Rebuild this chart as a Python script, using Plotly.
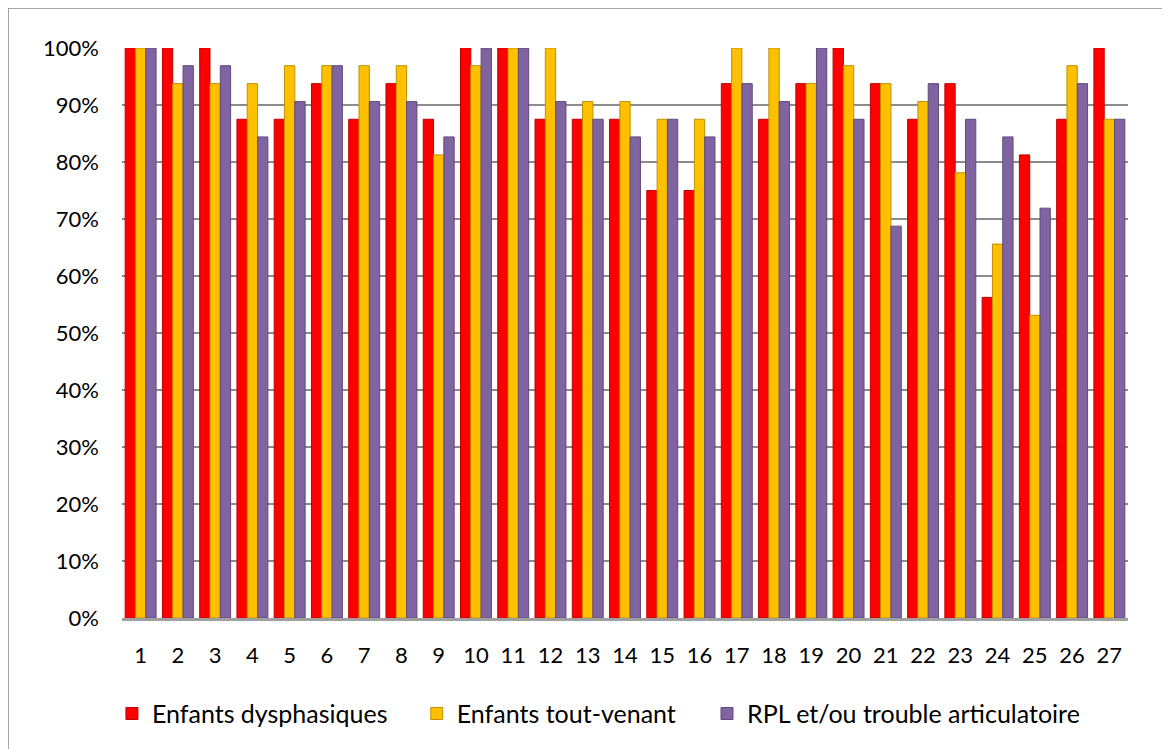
import plotly.graph_objects as go

categories = [str(i) for i in range(1, 28)]
dysphasiques = [100, 100, 100, 87.5, 87.5, 93.75, 87.5, 93.75, 87.5, 100, 100, 87.5, 87.5, 87.5,
                75, 75, 93.75, 87.5, 93.75, 100, 93.75, 87.5, 93.75, 56.25, 81.25, 87.5, 100]
tout_venant = [100, 93.75, 93.75, 93.75, 96.9, 96.9, 96.9, 96.9, 81.25, 96.9, 100, 100, 90.6, 90.6,
               87.5, 87.5, 100, 100, 93.75, 96.9, 93.75, 90.6, 78.1, 65.6, 53.1, 96.9, 87.5]
rpl = [100, 96.9, 96.9, 84.4, 90.6, 96.9, 90.6, 90.6, 84.4, 100, 100, 90.6, 87.5, 84.4,
       87.5, 84.4, 93.75, 90.6, 100, 87.5, 68.75, 93.75, 87.5, 84.4, 71.9, 93.75, 87.5]
series_names = ["Enfants dysphasiques", "Enfants tout-venant", "RPL et/ou trouble articulatoire"]
colors = ["#FF0000", "#FFC000", "#8064A2"]
edge_colors = ["#C00000", "#C09000", "#5F4A7C"]
legend_ids = ["legend", "legend2", "legend3"]
legend_x = [-0.01, 0.293, 0.5815]

fig = go.Figure()
for name, vals, c, ec, lg in zip(series_names, [dysphasiques, tout_venant, rpl], colors, edge_colors, legend_ids):
    fig.add_trace(go.Bar(
        x=categories, y=[v / 100 for v in vals], name=name, legend=lg,
        marker=dict(color=c, line=dict(color=ec, width=1)),
    ))

font_family = "Lato, 'Open Sans', sans-serif"
legend_common = dict(orientation="h", xanchor="left", y=-0.168, yanchor="middle",
                     font=dict(size=25), itemwidth=30, bgcolor="rgba(0,0,0,0)")
fig.update_layout(
    width=1170, height=749,
    paper_bgcolor="white", plot_bgcolor="white",
    barmode="group", bargap=0.17, bargroupgap=0,
    margin=dict(l=114, r=50, t=40, b=139),
    font=dict(family=font_family, size=22, color="black"),
    showlegend=True,
    legend=dict(x=legend_x[0], **legend_common),
    legend2=dict(x=legend_x[1], **legend_common),
    legend3=dict(x=legend_x[2], **legend_common),
    xaxis=dict(type="category", showgrid=False, showline=True, linecolor="#A0A0A0", linewidth=3,
               ticks="", ticklabelstandoff=16, tickfont=dict(size=22)),
    yaxis=dict(range=[0, 1.0], dtick=0.1, tickformat=".0%", showgrid=True,
               gridcolor="#8C8C8C", gridwidth=2, zeroline=False, showline=False,
               ticks="", ticklabelstandoff=22, tickfont=dict(size=22)),
    shapes=[dict(type="rect", xref="paper", yref="paper", x0=-0.1133, x1=1.2, y0=-0.4, y1=1.07,
                 line=dict(color="#8A8A8A", width=1.5), fillcolor="rgba(0,0,0,0)", layer="below")],
)

fig.write_html("out.html")
